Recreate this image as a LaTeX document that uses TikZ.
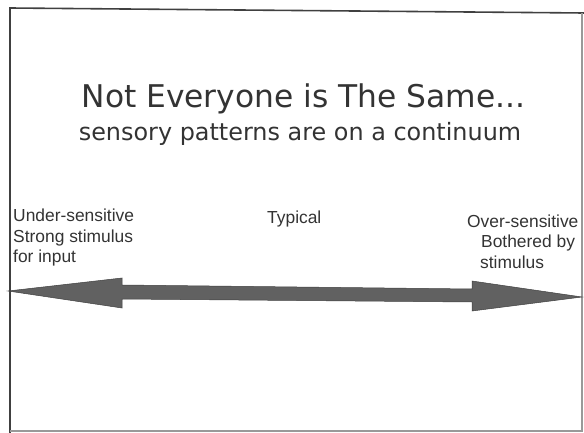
\documentclass[tikz,border=0pt]{standalone}
\usepackage{fontspec}
\setmainfont{Liberation Sans}
\newfontfamily\headfont{DejaVu Sans}
\begin{document}
\begin{tikzpicture}[x=1pt,y=-1pt,
  ink/.style={text=black!80},
  titletext/.style={ink,anchor=base,inner sep=0pt,font=\headfont\fontsize{31.3}{36}\selectfont},
  subtext/.style={ink,anchor=base,inner sep=0pt,font=\headfont\fontsize{23.9}{28}\selectfont},
  label/.style={ink,anchor=base west,inner sep=0pt,align=left,font=\fontsize{17.4}{20.5}\selectfont},
  frameline/.style={draw=black!75,line width=1.6pt},
  bigarrow/.style={fill=black!62,draw=black!75,line width=0.5pt,line join=miter}
]
\useasboundingbox (0,0) rectangle (584,433);

% slide frame
\coordinate (ftl) at (10,8);
\coordinate (ftr) at (584,13);
\coordinate (fbl) at (10,433);
\coordinate (fbr) at (582,431);
\draw[frameline] (fbl) -- (ftl) -- (ftr);
\draw[frameline,draw=black!40,line width=1.1pt] (582,13) -- (fbr) -- (10,431);

% heading
\node[titletext] (title) at (303.5,108) {Not Everyone is The Same...};
\node[subtext] (subtitle) at (300,141) {sensory patterns are on a continuum};

% continuum labels (base anchor sits on the last line)
\node[label] (under) at (13,262.5) {Under-sensitive\\Strong stimulus\\for input};
\node[label] (typical) at (267,223) {Typical};
\node[label] (over) at (467,268) {Over-sensitive\\\hspace*{14pt}Bothered by\\\hspace*{13pt}stimulus};

% double-headed continuum arrow
\coordinate (ltip) at (8,291);
\coordinate (rtip) at (582,297);
\fill[bigarrow] (ltip) -- (122,278) -- (122,285) -- (472,289) -- (472,281)
  -- (rtip) -- (472,311) -- (472,302) -- (122,299) -- (122,308) -- cycle;
\end{tikzpicture}
\end{document}
